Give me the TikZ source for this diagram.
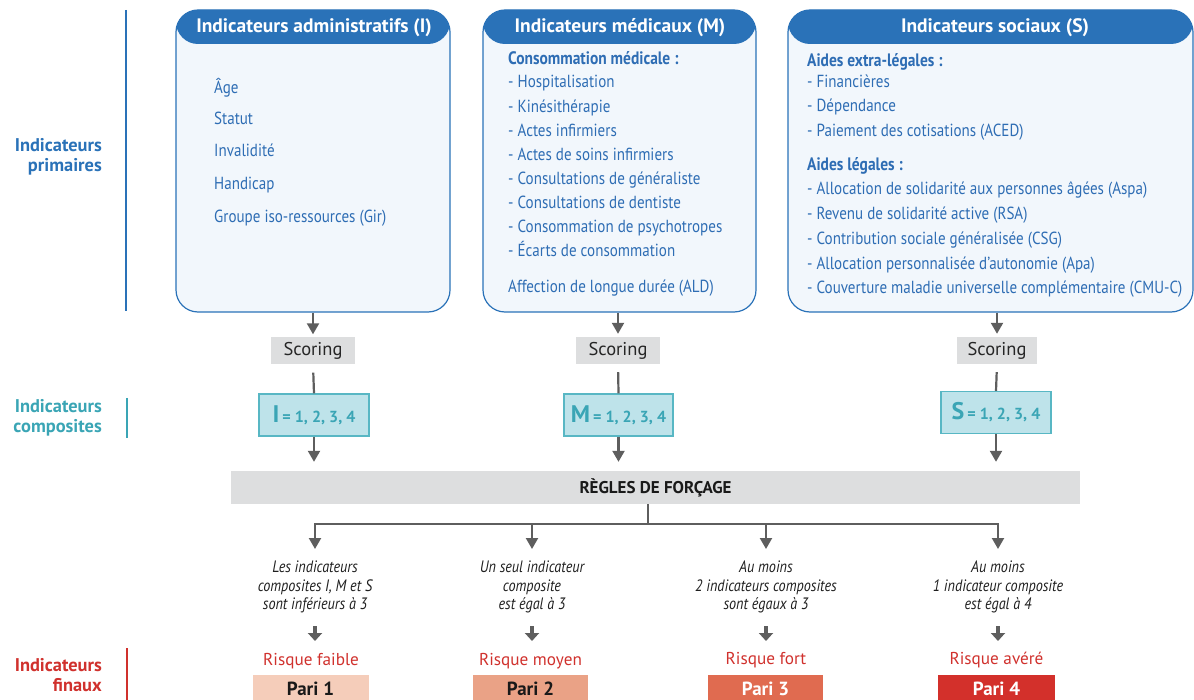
\documentclass[tikz,border=0pt]{standalone}
\usepackage{fontspec}
\setmainfont{PT Sans}
\newfontfamily\condf[FakeStretch=0.86]{PT Sans}
\usetikzlibrary{arrows.meta}
\definecolor{cblue}{HTML}{2A72B8}
\definecolor{cbluetext}{HTML}{2E6DB4}
\definecolor{cfill}{HTML}{F2F7FC}
\definecolor{cteal}{HTML}{3AA5B5}
\definecolor{ctealfill}{HTML}{BEE3EA}
\definecolor{ctealline}{HTML}{58B7C4}
\definecolor{cred}{HTML}{D0312D}
\definecolor{cgray}{HTML}{DDDEDF}
\definecolor{carrow}{HTML}{5E5E5E}
\definecolor{cpari1}{HTML}{F5CDBA}
\definecolor{cpari2}{HTML}{EAA286}
\definecolor{cpari3}{HTML}{E06B50}
\definecolor{cpari4}{HTML}{D3302B}
\begin{document}
\begin{tikzpicture}[x=1pt,y=-1pt,
  bigbox/.style={draw=cblue,line width=1.2pt,fill=cfill,rounded corners=22pt,
    minimum height=302pt,inner sep=0pt,
    path picture={\fill[cblue] (path picture bounding box.north west) rectangle ([yshift=-34pt]path picture bounding box.north east);}},
  hdr/.style={text=white,inner sep=0pt,font=\fontsize{19.5}{22}\selectfont\bfseries},
  item/.style={anchor=base west,text=cbluetext,inner sep=0pt,font=\condf\fontsize{17.5}{20}\selectfont},
  itemb/.style={item,font=\condf\fontsize{18}{20}\selectfont\bfseries},
  scorebox/.style={fill=cgray,minimum width=84pt,minimum height=27pt,inner sep=0pt,
    font=\fontsize{18.5}{20}\selectfont,text=black!85},
  compbox/.style={fill=ctealfill,draw=ctealline,line width=1.2pt,minimum width=110pt,
    minimum height=42pt,inner sep=0pt,text=cteal,font=\bfseries},
  rulebox/.style={fill=cgray,minimum width=849pt,minimum height=33pt,inner sep=0pt,
    font=\fontsize{17}{19}\selectfont\bfseries,text=black!90},
  ln/.style={draw=carrow,line width=2.2pt},
  arr/.style={ln,-{Triangle[width=12pt,length=11pt]}},
  smallarr/.style={draw=carrow,line width=3.5pt,-{Triangle[width=14pt,length=8pt]}},
  cond/.style={align=center,anchor=north,inner sep=0pt,text=black!88,
    font=\condf\fontsize{16.5}{18.5}\selectfont\itshape},
  risk/.style={text=cred,inner sep=0pt,font=\fontsize{17.2}{19}\selectfont},
  pari/.style={minimum width=116pt,minimum height=28pt,anchor=north,inner sep=0pt,
    font=\fontsize{19}{20}\selectfont\bfseries},
  sidelab/.style={align=right,anchor=east,inner sep=0pt,
    font=\fontsize{18.4}{20}\selectfont\bfseries}]
\useasboundingbox (0,0) rectangle (1194,700);

% side labels
\node[sidelab,text=cblue] (lp) at (102,157) {Indicateurs\\primaires};
\draw[cblue,line width=2pt] (126,10) -- (126,311);
\node[sidelab,text=cteal] (lc) at (102,418) {Indicateurs\\composites};
\draw[cteal,line width=2pt] (127,398) -- (127,438);
\node[sidelab,text=cred] (lf) at (102,675) {Indicateurs\\finaux};
\draw[cred,line width=2pt] (127,648) -- (127,700);

% big boxes
\node[bigbox,minimum width=274pt] (bI) at (313,161) {};
\node[bigbox,minimum width=273pt] (bM) at (619.5,161) {};
\node[bigbox,minimum width=405pt] (bS) at (990.5,161) {};
\node[hdr] (hI) at (314,28) {Indicateurs administratifs (I)};
\node[hdr] (hM) at (620,28) {Indicateurs médicaux (M)};
\node[hdr] (hS) at (995,28) {Indicateurs sociaux (S)};

% box I items
\foreach \t/\y [count=\k] in {{Âge}/94,{Statut}/125,{Invalidité}/157,{Handicap}/190,{Groupe iso-ressources (Gir)}/223}
  \node[item,name=iI\k] at (214,\y) {\t};

% box M items
\node[itemb] (m0) at (508,65) {Consommation médicale :};
\foreach \t/\y [count=\k] in {{- Hospitalisation}/88,{- Kinésithérapie}/112.5,{- Actes infirmiers}/136.5,{- Actes de soins infirmiers}/161,{- Consultations de généraliste}/185,{- Consultations de dentiste}/209,{- Consommation de psychotropes}/233,{- Écarts de consommation}/257}
  \node[item,name=iM\k] at (508,\y) {\t};
\node[item] (mald) at (508,293) {Affection de longue durée (ALD)};

% box S items
\node[itemb] (s0) at (807,67) {Aides extra-légales :};
\foreach \t/\y [count=\k] in {{- Financières}/88,{- Dépendance}/112,{- Paiement des cotisations (ACED)}/137}
  \node[item,name=iSa\k] at (807,\y) {\t};
\node[itemb] (s1) at (807,171) {Aides légales :};
\foreach \t/\y [count=\k] in {{- Allocation de solidarité aux personnes âgées (Aspa)}/195,{- Revenu de solidarité active (RSA)}/220,{- Contribution sociale généralisée (CSG)}/245,{- Allocation personnalisée d’autonomie (Apa)}/270,{- Couverture maladie universelle complémentaire (CMU-C)}/294}
  \node[item,name=iSb\k] at (807,\y) {\t};

% scoring
\node[scorebox] (scI) at (313,351) {Scoring};
\node[scorebox] (scM) at (618,350.5) {Scoring};
\node[scorebox,minimum width=80pt] (scS) at (997,350.5) {Scoring};

% composite
\node[compbox] (cI) at (314,415) {{\fontsize{24}{24}\selectfont I}\hspace{3pt}{\fontsize{16}{16}\selectfont = 1, 2, 3, 4}};
\node[compbox,minimum width=109pt] (cM) at (618.5,415) {{\fontsize{24}{24}\selectfont M}\hspace{3pt}{\fontsize{16}{16}\selectfont = 1, 2, 3, 4}};
\node[compbox] (cS) at (996,412.5) {{\fontsize{24}{24}\selectfont S}\hspace{3pt}{\fontsize{16}{16}\selectfont = 1, 2, 3, 4}};

% rules
\node[rulebox] (rg) at (655.5,487.5) {RÈGLES DE FORÇAGE};

% arrows top
\foreach \b/\s/\c in {bI/scI/cI,bM/scM/cM,bS/scS/cS}{
  \draw[arr,shorten >=3pt] (\b.south -| \s.north) -- (\s.north);
  \draw[ln,shorten <=8pt] (\s.south) -- (\c.north);
  \draw[arr,shorten >=9pt] (\c.south) -- (\c.south |- rg.north);
}

% conditions
\node[cond] (c1) at (315,561) {Les indicateurs\\composites I, M et S\\sont inférieurs à 3};
\node[cond] (c2) at (532,561) {Un seul indicateur\\composite\\est égal à 3};
\node[cond] (c3) at (766,561) {Au moins\\2 indicateurs composites\\sont égaux à 3};
\node[cond] (c4) at (998,561) {Au moins\\1 indicateur composite\\est égal à 4};

\coordinate (split) at (648,524);
\draw[ln] (rg.south -| split) -- (split);
\draw[arr,shorten >=12pt] (split) -| (c1.north);
\draw[arr,shorten >=12pt] (split) -| (c4.north);
\draw[arr,shorten >=12pt] (c2.north |- split) -- (c2.north);
\draw[arr,shorten >=12pt] (c3.north |- split) -- (c3.north);

% risks
\node[risk] (r1) at (311,661) {Risque faible};
\node[risk] (r2) at (530.5,661) {Risque moyen};
\node[risk] (r3) at (766,660) {Risque fort};
\node[risk] (r4) at (996.5,660) {Risque avéré};
\foreach \k in {1,2,3,4}
  \draw[smallarr] (c\k.south |- 0,626) -- (c\k.south |- 0,641);

% paris
\node[pari,fill=cpari1,text=black!90] (p1) at (310.5,675) {Pari 1};
\node[pari,fill=cpari2,text=black!90,minimum width=115pt] (p2) at (530.5,675) {Pari 2};
\node[pari,fill=cpari3,text=white,minimum width=115pt] (p3) at (765.5,675) {Pari 3};
\node[pari,fill=cpari4,text=white,minimum width=117pt] (p4) at (996.5,675) {Pari 4};
\end{tikzpicture}
\end{document}
